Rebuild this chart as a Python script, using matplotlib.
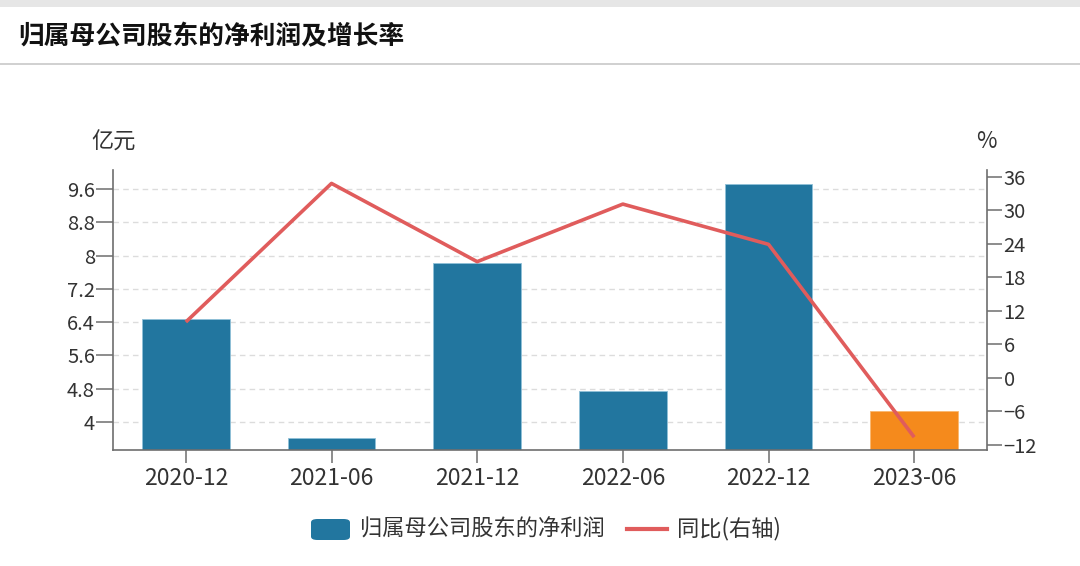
import matplotlib
matplotlib.use("Agg")
import matplotlib.pyplot as plt
from matplotlib.patches import Rectangle, FancyBboxPatch
from matplotlib.lines import Line2D
import numpy as np

plt.rcParams['font.family'] = ['Noto Sans CJK SC', 'DejaVu Sans']

categories = ["2020-12", "2021-06", "2021-12", "2022-06", "2022-12", "2023-06"]
net_profit = [6.48, 3.62, 7.82, 4.73, 9.72, 4.27]
yoy = [10.0, 34.8, 20.8, 31.1, 23.9, -10.6]
left_ticks = [4, 4.8, 5.6, 6.4, 7.2, 8, 8.8, 9.6]
left_labels = ["4", "4.8", "5.6", "6.4", "7.2", "8", "8.8", "9.6"]
right_ticks = [-12, -6, 0, 6, 12, 18, 24, 30, 36]
title = "归属母公司股东的净利润及增长率"
bar_label = "归属母公司股东的净利润"
line_label = "同比(右轴)"

BLUE = "#22769f"
ORANGE = "#f58a1c"
RED = "#e05c5c"
AXC = "#6e6e6e"
TXT = "#333333"

W, H = 1080, 566
fig = plt.figure(figsize=(W / 100, H / 100), dpi=100)
fig.patch.set_facecolor("white")

# top gray band and separator
fig.add_artist(Rectangle((0, 1 - 7 / H), 1, 7 / H, transform=fig.transFigure,
                         color="#e6e6e6", lw=0))
fig.add_artist(Line2D([0, 1], [1 - 64 / H, 1 - 64 / H], transform=fig.transFigure,
                      color="#c8c8c8", lw=1.2))
fig.text(18 / W, 1 - 37 / H, title, fontsize=18.5, fontweight="bold",
         color="#111111", va="center", ha="left")

ax = fig.add_axes([113 / W, 1 - 450 / H, (987 - 113) / W, (450 - 170) / H])
x = np.arange(len(categories))
colors = [BLUE] * (len(categories) - 1) + [ORANGE]
edges = ["#8fc0d8"] * (len(categories) - 1) + ["#f9b870"]
ax.bar(x, net_profit, width=0.6, color=colors, edgecolor=edges, linewidth=0.6, zorder=2)
ax.set_xlim(-0.5, len(categories) - 0.5)
ax.set_ylim(3.32, 10.06)
ax.set_yticks(left_ticks)
ax.set_yticklabels(left_labels)
ax.set_xticks(x)
ax.set_xticklabels(categories)
ax.grid(axis="y", color="#dcdcdc", linestyle=(0, (4, 3)), lw=1, zorder=0)
ax.set_axisbelow(True)
for s in ["top", "right"]:
    ax.spines[s].set_visible(False)
for s in ["left", "bottom"]:
    ax.spines[s].set_color(AXC)
    ax.spines[s].set_linewidth(1.2)
ax.tick_params(axis="y", colors=AXC, labelcolor=TXT, labelsize=14.5, length=12, width=1.1, pad=1)
ax.tick_params(axis="x", colors=AXC, labelcolor=TXT, labelsize=16.5, length=9, width=1.1, pad=3)

ax2 = ax.twinx()
ax2.plot(x, yoy, color=RED, lw=2.6, zorder=3, solid_capstyle="butt")
ax2.set_ylim(-12.9, 37.2)
ax2.set_yticks(right_ticks)
for s in ["top", "left", "bottom"]:
    ax2.spines[s].set_visible(False)
ax2.spines["right"].set_color(AXC)
ax2.spines["right"].set_linewidth(1.2)
ax2.tick_params(axis="y", colors=AXC, labelcolor=TXT, labelsize=14.5, length=11, width=1.1, pad=1)

fig.text(114 / W, 1 - 142 / H, "亿元", fontsize=16, color=TXT, ha="center", va="center")
fig.text(986 / W, 1 - 142 / H, "%", fontsize=16, color=TXT, ha="center", va="center")

# legend
ly = 1 - 529 / H
fig.add_artist(FancyBboxPatch((311 / W, 1 - 540 / H), 39 / W, 21 / H,
                              boxstyle="round,pad=0,rounding_size=0.006",
                              transform=fig.transFigure, color=BLUE, lw=0))
fig.text(360 / W, ly, bar_label, fontsize=16, color=TXT, ha="left", va="center")
fig.add_artist(Line2D([627 / W, 667 / W], [ly, ly], transform=fig.transFigure,
                      color=RED, lw=3))
fig.text(677 / W, ly, line_label, fontsize=16, color=TXT, ha="left", va="center")

fig.savefig("out.png", dpi=100)
